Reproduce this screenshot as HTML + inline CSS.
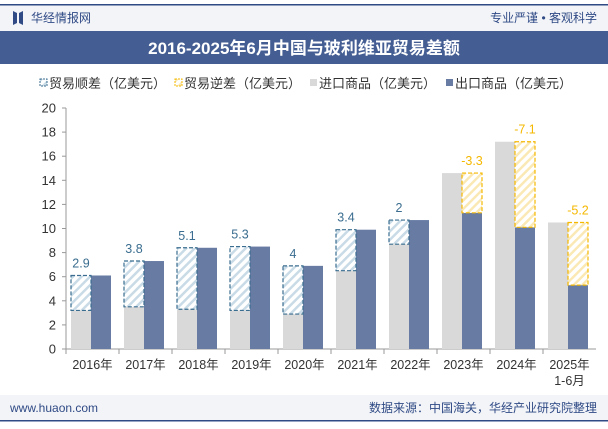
<!DOCTYPE html>
<html><head><meta charset="utf-8"><style>
body{margin:0;width:608px;height:424px;overflow:hidden;background:#fff;font-family:"Liberation Sans","Noto Sans CJK SC",sans-serif;}
svg text{font-family:"Liberation Sans","Noto Sans CJK SC",sans-serif;}
</style></head><body>
<svg id="chart" width="608" height="424" xmlns="http://www.w3.org/2000/svg">
<defs>
<pattern id="hb" width="6" height="6" patternUnits="userSpaceOnUse" patternTransform="rotate(45)"><rect width="6" height="6" fill="#fff"/><rect width="2.5" height="6" fill="#c9dbe6"/></pattern>
<pattern id="hy" width="6" height="6" patternUnits="userSpaceOnUse" patternTransform="rotate(45)"><rect width="6" height="6" fill="#fff"/><rect width="2.5" height="6" fill="#fbe9b5"/></pattern>
</defs>
<rect x="0" y="5" width="608" height="26" fill="#f3f4f8"/>
<rect x="0" y="4" width="608" height="1.5" fill="#2f4a85"/>
<path d="M13 11 L17 13 L17 23 L13 25 Z M23 11 L19 13 L19 23 L23 25 Z" fill="#2f4a85"/>
<text x="31" y="22" font-size="12" fill="#2f4a85">华经情报网</text>
<text x="597" y="22" font-size="12" fill="#2f4a85" text-anchor="end">专业严谨 • 客观科学</text>
<rect x="0" y="31" width="608" height="33" fill="#445d93"/>
<text x="304" y="54" font-size="17" font-weight="bold" fill="#fff" text-anchor="middle">2016-2025年6月中国与玻利维亚贸易差额</text>
<g id="legend" font-size="13" fill="#333">
<g><rect x="40" y="79" width="7" height="7" fill="url(#hb)" stroke="#3a6d8f" stroke-width="1" stroke-dasharray="2,1"/><text x="49" y="88">贸易顺差（亿美元）</text></g>
<g><rect x="175" y="79" width="7" height="7" fill="url(#hy)" stroke="#f5b800" stroke-width="1" stroke-dasharray="2,1"/><text x="184" y="88">贸易逆差（亿美元）</text></g>
<g><rect x="310" y="79" width="7" height="7" fill="#d9d9d9"/><text x="319" y="88">进口商品（亿美元）</text></g>
<g><rect x="446" y="79" width="7" height="7" fill="#677ba3"/><text x="455" y="88">出口商品（亿美元）</text></g>
</g>
<g id="axes"></g>
<g id="bars"></g>
<rect x="0" y="395" width="608" height="25" fill="#f3f4f8"/>
<rect x="0" y="420" width="608" height="1.5" fill="#2f4a85"/>
<text x="10" y="412" font-size="12" fill="#2f4a85">www.huaon.com</text>
<text x="597" y="412" font-size="12" fill="#2f4a85" text-anchor="end">数据来源：中国海关，华经产业研究院整理</text>
</svg>
<script>
const categories=["2016年","2017年","2018年","2019年","2020年","2021年","2022年","2023年","2024年","2025年"];
const imports=[3.2,3.5,3.3,3.2,2.9,6.5,8.7,14.6,17.2,10.5];
const exports=[6.1,7.3,8.4,8.5,6.9,9.9,10.7,11.3,10.1,5.3];
const balanceLabels=["2.9","3.8","5.1","5.3","4","3.4","2","-3.3","-7.1","-5.2"];
const yTicks=[0,2,4,6,8,10,12,14,16,18,20];
const NS="http://www.w3.org/2000/svg";
const x0=66,x1=596,y0=349,yTop=108,yMax=20;
const band=(x1-x0)/categories.length;
const y=v=>y0-(v/yMax)*(y0-yTop);
const xb=i=>x0+i*band;
function mk(tag,attrs,parent){const e=document.createElementNS(NS,tag);for(const k in attrs)e.setAttribute(k,attrs[k]);parent.appendChild(e);return e;}
const ax=document.getElementById('axes'),bars=document.getElementById('bars');
const yl=mk('line',{x1:x0,y1:yTop,x2:x0,y2:y0,stroke:'#999'},ax);


const xl=mk('line',{x1:x0,y1:y0,x2:x1,y2:y0,stroke:'#999'},ax);


yTicks.forEach(t=>{
 mk('line',{x1:x0-4,y1:y(t),x2:x0,y2:y(t),stroke:'#999'},ax);
 const tx=mk('text',{x:x0-10,y:y(t)+4.5,'font-size':13,fill:'#333','text-anchor':'end'},ax);
 tx.textContent=t;
 
 
});
categories.forEach((c,i)=>{
 mk('line',{x1:xb(i),y1:y0,x2:xb(i),y2:y0+5,stroke:'#999'},ax);
 const tx=mk('text',{x:xb(i)+band/2,y:y0+20,'font-size':12.5,fill:'#333','text-anchor':'middle'},ax);
 tx.textContent=c;
 
 
 if(i===categories.length-1){const t2=mk('text',{x:xb(i)+band/2,y:y0+36,'font-size':12.5,fill:'#333','text-anchor':'middle'},ax);t2.textContent='1-6月';
 
 }
 const bw=20,ix=xb(i)+5,ex=ix+bw;
 const ib=mk('rect',{x:ix,y:y(imports[i]),width:bw,height:y0-y(imports[i]),fill:'#d9d9d9'},bars);
 
 
 const eb=mk('rect',{x:ex,y:y(exports[i]),width:bw,height:y0-y(exports[i]),fill:'#677ba3'},bars);
 
 
 const pos=exports[i]>=imports[i];
 const hi=Math.max(exports[i],imports[i]),lo=Math.min(exports[i],imports[i]);
 const bx=pos?ix:ex;
 const col=pos?'#3a6d8f':'#f5b800';
 const hb=mk('rect',{x:bx,y:y(hi),width:bw,height:y(lo)-y(hi),fill:pos?'url(#hb)':'url(#hy)',stroke:col,'stroke-width':1.2,'stroke-dasharray':'4,2'},bars);
 
 
 const lb=mk('text',{x:bx+bw/2,y:y(hi)-8,'font-size':12.5,fill:pos?'#3a6d8f':'#f5b800','text-anchor':'middle'},bars);
 lb.textContent=balanceLabels[i];
 
 
});
</script>
</body></html>
